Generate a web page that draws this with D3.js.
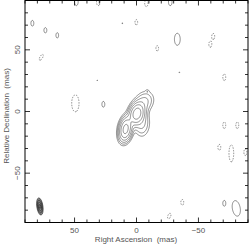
<!DOCTYPE html>
<html>
<head>
<meta charset="utf-8">
<script src="https://cdn.jsdelivr.net/npm/d3@7"></script>
<style>
  body { margin: 0; background: #fff; }
  svg { display: block; }
  text { font-family: "Liberation Sans", sans-serif; fill: #555; }
</style>
</head>
<body>
<div id="chart"></div>
<script>
// source model components (mas, relative flux)
const compRa  = [0, 9, -6, -4];
const compDec = [-1.5, -14, 8, -9];
const compAmp = [1.0, 0.85, 0.1, 0.1];
const compSx  = [3, 2.6, 4, 3.5];
const compSy  = [4.5, 5, 5, 6];
const compPa  = [-15, -10, -30, 0];

// noise islands (positive = solid, negative = dashed)
const noiseRa  = [84.3, 73.8, 64.2, 77.1, 31.9, 49.6, 27.0, 48.8, 31.1, 11.7, -7.7, -27, 0.4, -32.7, -16.5, -61.7, -59.3, -34.3, -70.6, -8.5, -70.6, -81.1, -66.6, -76.3, -87.6, -36.7, -70.6, -80.3, -26.2];
const noiseDec = [71.8, 66.1, 62.0, 44.2, 25.5, 6.9, 6.1, 89, 89, 71.8, 88, 89, 72.6, 58.8, 51.5, 61.2, 54.7, 32.0, 28.0, 16.6, -10.9, -10.9, -28.8, -33.7, -32.8, -73.4, -74.2, -78.3, -84.5];
const noiseAmp = [0.03, 0.03, 0.03, -0.03, 0.022, -0.035, 0.03, 0.032, -0.032, 0.022, -0.03, 0.032, -0.03, 0.035, -0.03, -0.03, -0.03, 0.022, -0.03, 0.022, -0.03, -0.03, -0.03, -0.035, -0.03, -0.03, 0.03, 0.035, -0.03];
const noiseSx  = [1.3, 1.3, 1.2, 1.2, 0.9, 2.8, 1.3, 1.5, 1.5, 0.9, 1.5, 1.5, 1.2, 2.2, 1.2, 1.3, 1.3, 0.9, 1.3, 0.9, 1.3, 1.3, 1.3, 1.8, 1.3, 1.3, 1.3, 3, 1.3];
const noiseSy  = [2.6, 2.4, 2.4, 3.0, 0.9, 6.5, 2.6, 3.0, 3.0, 0.9, 3.0, 3.0, 2.4, 4.6, 2.4, 2.6, 2.6, 0.9, 3.0, 0.9, 3.0, 3.0, 2.6, 6.5, 3.0, 2.6, 2.6, 6, 2.6];
const noisePa  = [0, 0, 0, -30, 0, 0, 0, 0, 0, 0, 0, 0, 0, 0, 0, 0, 0, 0, 0, 0, 0, 0, 0, 0, 0, 0, 0, 10, -20];

const levels = [0.02, 0.04, 0.08, 0.16, 0.32, 0.64];
const beam = { ra: 78, dec: -77, major: 14, minor: 5, pa: -8 };

const xTicks = [50, 0, -50];
const yTicks = [50, 0, -50];

const width = 249, height = 245;
const x = d3.scaleLinear().domain([90, -90]).range([25, 248]);
const y = d3.scaleLinear().domain([90, -90]).range([0.5, 222.5]);

const svg = d3.select("#chart").append("svg")
    .attr("width", width).attr("height", height);

svg.append("clipPath").attr("id", "clip")
    .append("rect").attr("x", 25).attr("y", 0.5).attr("width", 223).attr("height", 222);

// build the map grid
const step = 0.5;
const n = 361;
const allRa = compRa.concat(noiseRa);
const allDec = compDec.concat(noiseDec);
const allAmp = compAmp.concat(noiseAmp);
const allSx = compSx.concat(noiseSx);
const allSy = compSy.concat(noiseSy);
const allPa = compPa.concat(noisePa);
const grid = new Float64Array(n * n);
for (let j = 0; j < n; j++) {
    const dec = 90 - j * step;
    for (let i = 0; i < n; i++) {
        const ra = 90 - i * step;
        let v = 0;
        for (let k = 0; k < allRa.length; k++) {
            const dx = ra - allRa[k], dy = dec - allDec[k];
            if (Math.abs(dx) > 25 || Math.abs(dy) > 30) continue;
            const t = allPa[k] * Math.PI / 180;
            const u = dx * Math.cos(t) - dy * Math.sin(t);
            const w = dx * Math.sin(t) + dy * Math.cos(t);
            v += allAmp[k] * Math.exp(-0.5 * (u * u / (allSx[k] * allSx[k]) + w * w / (allSy[k] * allSy[k])));
        }
        grid[j * n + i] = v;
    }
}
const negGrid = grid.map(v => -v);

const proj = d3.geoTransform({
    point: function(px, py) {
        this.stream.point(x(90 - px * step), y(90 - py * step));
    }
});
const path = d3.geoPath(proj);

const plot = svg.append("g").attr("clip-path", "url(#clip)");

plot.selectAll("path.pos")
    .data(d3.contours().size([n, n]).thresholds(levels)(grid))
    .enter().append("path")
    .attr("class", "pos")
    .attr("d", path)
    .attr("fill", "none")
    .attr("stroke", "#222")
    .attr("stroke-width", 0.5);

plot.selectAll("path.neg")
    .data(d3.contours().size([n, n]).thresholds([levels[0]])(negGrid))
    .enter().append("path")
    .attr("class", "neg")
    .attr("d", path)
    .attr("fill", "none")
    .attr("stroke", "#222")
    .attr("stroke-width", 0.5)
    .attr("stroke-dasharray", "1.5,1.2");

// beam
const bx = x(beam.ra), by = y(beam.dec);
const rx = Math.abs(x(0) - x(beam.minor / 2)), ry = Math.abs(y(0) - y(beam.major / 2));
const beamG = svg.append("g").attr("transform", "translate(" + bx + "," + by + ") rotate(" + beam.pa + ")");
[1, 0.75, 0.5, 0.25].forEach(function(s, i) {
    beamG.append("ellipse")
        .attr("rx", rx * s).attr("ry", ry * s)
        .attr("fill", i === 0 ? "#888" : "none")
        .attr("stroke", "#222")
        .attr("stroke-width", 0.6);
});

// frame
svg.append("rect")
    .attr("x", 25).attr("y", 0.5).attr("width", 223).attr("height", 222)
    .attr("fill", "none").attr("stroke", "#000").attr("stroke-width", 1);

// ticks: every 10 mas, major every 50, all inward
const tickVals = d3.range(-90, 91, 10);
const tg = svg.append("g").attr("stroke", "#000").attr("stroke-width", 0.8);
tickVals.forEach(function(v) {
    const len = v % 50 === 0 ? 5 : 3;
    tg.append("line").attr("x1", x(v)).attr("x2", x(v)).attr("y1", 222.5).attr("y2", 222.5 - len);
    tg.append("line").attr("x1", x(v)).attr("x2", x(v)).attr("y1", 0.5).attr("y2", 0.5 + len);
    tg.append("line").attr("y1", y(v)).attr("y2", y(v)).attr("x1", 25).attr("x2", 25 + len);
    tg.append("line").attr("y1", y(v)).attr("y2", y(v)).attr("x1", 248).attr("x2", 248 - len);
});

// tick labels
svg.selectAll("text.xt").data(xTicks).enter().append("text")
    .attr("x", d => x(d)).attr("y", 233)
    .attr("text-anchor", "middle").attr("font-size", 8)
    .text(d => d < 0 ? "\u2212" + Math.abs(d) : d);

svg.selectAll("text.yt").data(yTicks).enter().append("text")
    .attr("transform", d => "translate(20," + y(d) + ") rotate(-90)")
    .attr("text-anchor", "middle").attr("font-size", 8)
    .text(d => d < 0 ? "\u2212" + Math.abs(d) : d);

// axis titles
svg.append("text").attr("x", 136).attr("y", 242)
    .attr("text-anchor", "middle").attr("font-size", 8)
    .attr("xml:space", "preserve")
    .text("Right Ascension  (mas)");

svg.append("text")
    .attr("transform", "translate(9,116) rotate(-90)")
    .attr("text-anchor", "middle").attr("font-size", 8)
    .attr("xml:space", "preserve")
    .text("Relative Declination  (mas)");
</script>
</body>
</html>
